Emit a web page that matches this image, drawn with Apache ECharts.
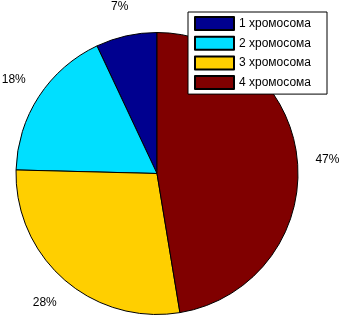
<!DOCTYPE html>
<html><head><meta charset="utf-8">
<script src="https://cdn.jsdelivr.net/npm/echarts@6/dist/echarts.min.js"></script>
<style>html,body{margin:0;padding:0;background:#fff}#c{width:343px;height:319px}</style>
</head><body><div id="c"></div>
<script>
var categories = ['1 хромосома', '2 хромосома', '3 хромосома', '4 хромосома'];
var values = [7.0, 17.6, 28.0, 47.4];
var labels = ['7%', '18%', '28%', '47%'];
var colors = ['#00008F', '#00DFFF', '#FFCF00', '#800000'];

var chart = echarts.init(document.getElementById('c'), null, {renderer: 'canvas'});
var font = 'Liberation Sans, Arial, sans-serif';
var pieData = categories.map(function (n, i) {
  return {name: n, value: values[i], itemStyle: {color: colors[i]}};
});
var labelData = categories.map(function (n, i) {
  return {name: n, value: values[i], label: {formatter: labels[i]}};
});
chart.setOption({
  animation: false,
  legend: {
    orient: 'vertical', left: 188, top: 12,
    itemWidth: 39, itemHeight: 13, itemGap: 4.7,
    padding: [4, 16, 4, 6],
    backgroundColor: '#fff', borderColor: '#000', borderWidth: 1,
    icon: 'rect',
    textStyle: {fontFamily: font, fontSize: 12, color: '#000', lineHeight: 14},
    data: categories
  },
  series: [{
    type: 'pie', center: [157, 173.5], radius: 141,
    startAngle: 90, clockwise: false, silent: true,
    itemStyle: {borderColor: '#000', borderWidth: 1},
    label: {show: false}, labelLine: {show: false},
    data: pieData
  }, {
    type: 'pie', center: [157, 173.5], radius: [155, 181],
    startAngle: 90, clockwise: false, silent: true,
    legendHoverLink: false,
    itemStyle: {color: 'rgba(0,0,0,0)', borderWidth: 0},
    label: {show: true, position: 'inside', fontFamily: font, fontSize: 12, color: '#000', rotate: 0},
    labelLine: {show: false},
    data: labelData
  }]
});
</script></body></html>
